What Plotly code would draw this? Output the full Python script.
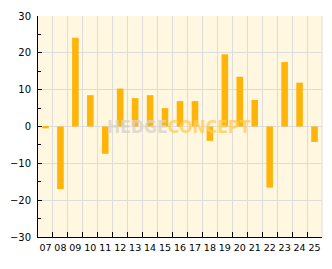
import plotly.graph_objects as go

categories = ["07", "08", "09", "10", "11", "12", "13", "14", "15", "16",
              "17", "18", "19", "20", "21", "22", "23", "24", "25"]
values = [-0.5, -17.0, 24.1, 8.5, -7.4, 10.3, 7.7, 8.5, 5.0, 6.9,
          6.9, -3.9, 19.6, 13.5, 7.2, -16.6, 17.5, 11.9, -4.2]
y_ticks = [-30, -20, -10, 0, 10, 20, 30]

grid = "#dcdcdc"
fig = go.Figure()
fig.add_trace(go.Bar(x=categories, y=values, marker=dict(color="#ffb40a", line=dict(width=0))))

fig.update_layout(
    width=332, height=269,
    margin=dict(l=31, r=10, t=11, b=32),
    paper_bgcolor="white", plot_bgcolor="#fff7e0",
    bargap=0.56, showlegend=False,
    font=dict(family="DejaVu Sans", size=9, color="black"),
)
fig.update_xaxes(
    type="category", tickson="boundaries", showgrid=True, gridcolor=grid, gridwidth=1,
    showline=True, linecolor="black", linewidth=1,
    ticks="inside", ticklen=5, tickcolor="black", tickfont=dict(size=9.5),
    tickangle=0, ticklabelstandoff=2,
)
fig.update_yaxes(
    range=[-30, 30], tickvals=y_ticks, showgrid=True, gridcolor=grid,
    zeroline=True, zerolinecolor=grid, zerolinewidth=1,
    showline=True, linecolor="black", linewidth=1,
    ticks="inside", ticklen=4, tickcolor="black", tickfont=dict(size=10),
    ticklabelstandoff=4,
    minor=dict(dtick=5, ticks="inside", ticklen=3, tickcolor="black", showgrid=False),
)
fig.add_shape(type="line", xref="paper", yref="paper", x0=1, x1=1, y0=0, y1=1,
              line=dict(color=grid, width=1))
fig.add_annotation(
    xref="paper", yref="paper", x=0.498, y=0.5, showarrow=False,
    text="<b><span style='color:rgba(215,212,205,0.8)'>HEDGE</span>"
         "<span style='color:rgba(255,205,90,0.8)'>CONCEPT</span></b>",
    font=dict(family="Liberation Sans Narrow, DejaVu Sans Condensed, Liberation Sans", size=17.5, weight="bold"),
)
fig.write_html("out.html")
